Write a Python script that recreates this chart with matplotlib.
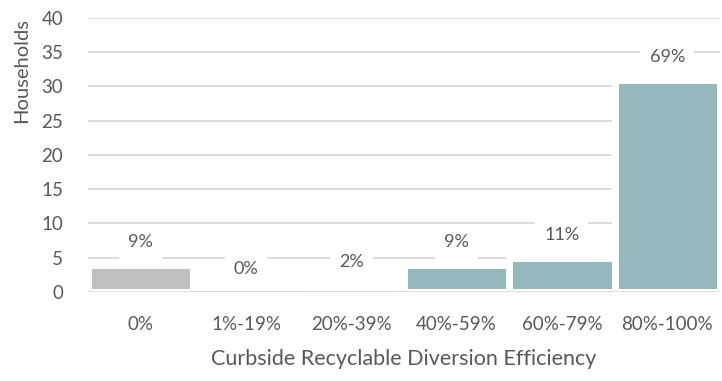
import matplotlib
matplotlib.use("Agg")
import matplotlib.pyplot as plt

# households per efficiency band
bands = ["0%", "1%-19%", "20%-39%", "40%-59%", "60%-79%", "80%-100%"]
households = [4, 0, 1, 4, 5, 31]
shares = ["9%", "0%", "2%", "9%", "11%", "69%"]
bar_colors = ["#BFBFBF", "#94B8BB", "#94B8BB", "#94B8BB", "#94B8BB", "#94B8BB"]

txt = "#595959"
grid = "#D9D9D9"
plt.rcParams["font.family"] = ["Lato", "DejaVu Sans"]

fig = plt.figure(figsize=(7.22, 3.81), dpi=100)
ax = fig.add_axes([0.122, 0.2336, 0.875, 0.7192])

x = range(len(bands))
ax.bar(x, households, width=1.0, color=bar_colors, edgecolor="white",
       linewidth=5, zorder=2)
ax.axhline(0, color=grid, lw=1.3, zorder=3)

for i, (v, s) in enumerate(zip(households, shares)):
    ax.annotate(s, (i, v), xytext=(0, 16.5), textcoords="offset points",
                ha="center", va="center", fontsize=13, color=txt, zorder=5,
                bbox=dict(boxstyle="square,pad=0.5", fc="white", ec="none"))

ax.set_xlim(-0.5, 5.5)
ax.set_ylim(0, 40)
ax.set_yticks(range(0, 41, 5))
ax.set_xticks(list(x))
ax.set_xticklabels(bands)
ax.yaxis.grid(True, color=grid, lw=1.3)
ax.set_axisbelow(True)
for sp in ax.spines.values():
    sp.set_visible(False)
ax.tick_params(axis="y", length=0, pad=18, labelsize=13.5, labelcolor=txt)
ax.tick_params(axis="x", length=0, pad=17, labelsize=13.5, labelcolor=txt)

ax.set_xlabel("Curbside Recyclable Diversion Efficiency", fontsize=15.5,
              color=txt, labelpad=12)
ax.set_ylabel("Households", fontsize=14.5, color=txt)
ax.yaxis.set_label_coords(-0.091, 0.807)

fig.savefig("out.png", dpi=100)
